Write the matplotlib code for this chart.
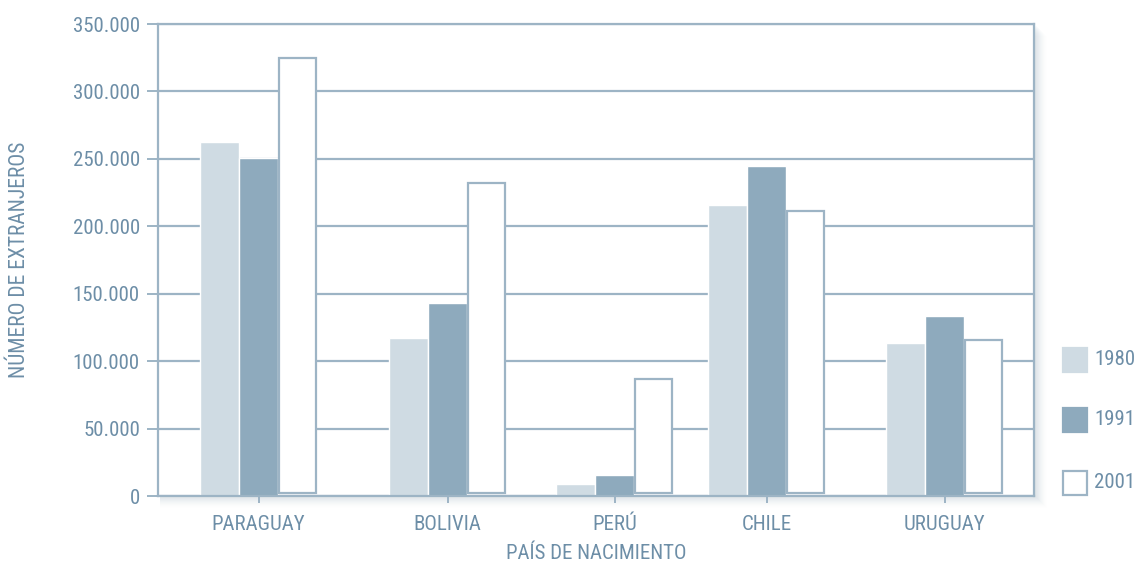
import numpy as np
import matplotlib
matplotlib.use('Agg')
from matplotlib import pyplot as plt
from matplotlib import font_manager
from matplotlib.patches import Rectangle

# fuente estrecha si existe
nombres = set(f.name for f in font_manager.fontManager.ttflist)
fuente = 'DejaVu Sans'
for f in ['Liberation Sans Narrow', 'Roboto Condensed', 'Open Sans Condensed', 'Roboto']:
    if f in nombres:
        fuente = f
        break
plt.rcParams['font.family'] = [fuente, 'DejaVu Sans']

paises = ['PARAGUAY', 'BOLIVIA', 'PERÚ', 'CHILE', 'URUGUAY']
anios = ['1980', '1991', '2001']
v1980 = [262500, 117200, 8900, 215800, 113500]
v1991 = [250600, 143100, 15600, 244700, 133500]
v2001 = [324800, 232100, 86800, 211300, 115700]

# posiciones de los grupos (no equidistantes en el original)
pos = np.array([258.5, 447.5, 614.5, 766.5, 944.5])
ancho = 39

azul_txt = '#6d8ea7'
linea = '#9db4c5'
c1980 = '#cfdbe3'
c1991 = '#8eaabd'

W, H = 1138, 562
fig = plt.figure(figsize=(W/100, H/100), dpi=100)

# sombra suave abajo/derecha del recuadro
for i in range(12):
    a = 0.035 * (1 - i/12)
    fig.add_artist(Rectangle(((158 + 2)/W, (66 - 1 - i)/H), (1034 - 158 + i)/W, (472)/H,
                             transform=fig.transFigure, color='#6d8ea7', alpha=a, lw=0, zorder=0))

ax = fig.add_axes([158/W, 66/H, (1034-158)/W, (496-24)/H], zorder=1)

b1 = ax.bar(pos - ancho, v1980, ancho, color=c1980, edgecolor='white', linewidth=1, zorder=3)
b2 = ax.bar(pos, v1991, ancho, color=c1991, edgecolor='white', linewidth=1, zorder=3)
b3 = ax.bar(pos + ancho, np.array(v2001) - 2000, ancho - 2, bottom=2000, color='white',
            edgecolor=linea, linewidth=1.6, zorder=3)

ax.set_xlim(158, 1034)
ax.set_ylim(0, 350000)
yt = np.arange(0, 350001, 50000)
ax.set_yticks(yt)
ax.set_yticklabels(['0' if v == 0 else f'{v//1000}.000' for v in yt])
ax.set_xticks(pos)
ax.set_xticklabels(paises)
ax.yaxis.grid(True, color=linea, linewidth=1.6, zorder=1)
ax.set_axisbelow(True)

for s in ax.spines.values():
    s.set_color(linea)
    s.set_linewidth(1.6)
    s.set_zorder(4)

ax.tick_params(axis='y', colors=linea, labelcolor=azul_txt, labelsize=15, length=8, width=1.4, pad=5)
ax.tick_params(axis='x', colors=linea, labelcolor=azul_txt, labelsize=15, length=5, width=1.4, pad=9)

ax.set_ylabel('NÚMERO DE EXTRANJEROS', color=azul_txt, fontsize=15.5)
ax.yaxis.set_label_coords(-(158 - 30)/876, 0.5)
ax.set_xlabel('PAÍS DE NACIMIENTO', color=azul_txt, fontsize=15, labelpad=7)

# leyenda a la derecha, dibujada a mano
ley_y = [359.5, 419.5, 482.5]
for lab, yc, fc, ec in zip(anios, ley_y, [c1980, c1991, 'white'], [c1980, c1991, linea]):
    fig.add_artist(Rectangle((1062.5/W, 1 - (yc + 12)/H), 24/W, 24/H, transform=fig.transFigure,
                             facecolor=fc, edgecolor=ec, linewidth=1.6))
    fig.text(1094/W, 1 - yc/H, lab, color=azul_txt, fontsize=15, va='center', ha='left')

fig.savefig('out.png', dpi=100)
